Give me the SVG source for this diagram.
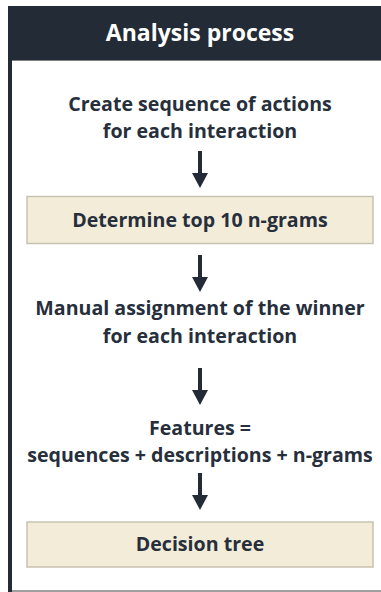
<svg xmlns="http://www.w3.org/2000/svg" width="381" height="592" viewBox="0 0 381 592">
<style>
.t{font-family:"Open Sans",Lato,"Liberation Sans",sans-serif;font-weight:bold;font-size:19.6px;fill:#262F3B;text-anchor:middle}
.h{font-family:"Open Sans",Lato,"Liberation Sans",sans-serif;font-weight:bold;font-size:23px;fill:#FFFFFF;text-anchor:middle}
.box{fill:#F3ECD8;stroke:#C9C2B2;stroke-width:1.5}
.arr{fill:#222B36}
</style>
<defs>
<path id="a" d="M-2,0 H2 V22 H8 L0,37 L-8,22 H-2 Z"/>
</defs>
<rect x="0" y="0" width="381" height="592" fill="#FFFFFF"/>
<g id="frame">
<rect x="8" y="6" width="373" height="54" fill="#222B36"/>
<rect x="8" y="6" width="4" height="586" fill="#222B36"/>
<line x1="12" y1="60.5" x2="381" y2="60.5" stroke="#7F7F7F" stroke-width="1"/>
<line x1="12" y1="591" x2="381" y2="591" stroke="#7F7F7F" stroke-width="1.5"/>
<text class="h" x="200" y="41">Analysis process</text>
</g>
<g id="n1"><text class="t" x="200" y="111">Create sequence of actions</text><text class="t" x="200" y="138">for each interaction</text></g>
<g id="n2"><rect class="box" x="27" y="196.5" width="346" height="47"/><text class="t" x="200" y="227">Determine top 10 n-grams</text></g>
<g id="n3"><text class="t" x="200" y="315">Manual assignment of the winner</text><text class="t" x="200" y="343">for each interaction</text></g>
<g id="n4"><text class="t" x="200" y="435">Features =</text><text class="t" x="200" y="462">sequences + descriptions + n-grams</text></g>
<g id="n5"><rect class="box" x="27" y="522" width="346" height="45"/><text class="t" x="200" y="551">Decision tree</text></g>
<g id="connectors" class="arr">
<use href="#a" x="200" y="151"/>
<use href="#a" x="200" y="255"/>
<use href="#a" x="200" y="368"/>
<use href="#a" x="200" y="473"/>
</g>
</svg>
